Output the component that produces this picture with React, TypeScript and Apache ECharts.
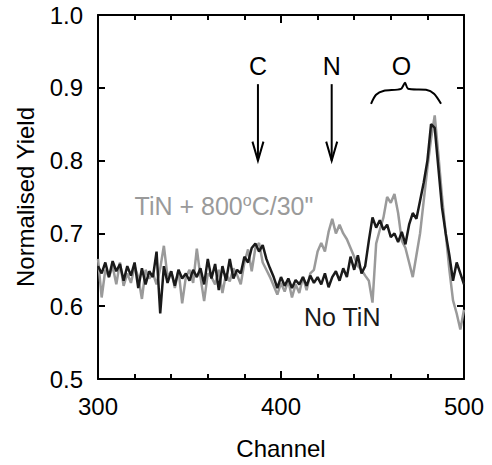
import React, { useEffect, useRef } from "react";
import * as echarts from "echarts";

const channels = [
  300, 302, 304, 306, 308, 310, 312, 314, 316, 318, 320, 322, 324, 326, 328, 330, 332, 334, 336, 338,
  340, 342, 344, 346, 348, 350, 352, 354, 356, 358, 360, 362, 364, 366, 368, 370, 372, 374, 376, 378,
  380, 382, 384, 386, 388, 390, 392, 394, 396, 398, 400, 402, 404, 406, 408, 410, 412, 414, 416, 418,
  420, 422, 424, 426, 428, 430, 432, 434, 436, 438, 440, 442, 444, 446, 448, 450, 452, 454, 456, 458,
  460, 462, 464, 466, 468, 470, 472, 474, 476, 478, 480, 482, 484, 486, 488, 490, 492, 494, 496, 498,
  500,
];

const noTiN = [
  0.655, 0.645, 0.66, 0.64, 0.662, 0.648, 0.658, 0.635, 0.655, 0.642, 0.66, 0.625, 0.652, 0.63, 0.648, 0.64, 0.675, 0.59, 0.655, 0.632,
  0.648, 0.628, 0.65, 0.638, 0.645, 0.635, 0.65, 0.64, 0.652, 0.63, 0.665, 0.638, 0.658, 0.622, 0.655, 0.635, 0.665, 0.638, 0.65, 0.645,
  0.668, 0.66, 0.68, 0.686, 0.675, 0.684, 0.665, 0.652, 0.64, 0.625, 0.64, 0.628, 0.638, 0.625, 0.636, 0.63, 0.64, 0.628, 0.642, 0.632,
  0.64, 0.63, 0.645, 0.626, 0.64, 0.648, 0.635, 0.652, 0.64, 0.668, 0.65, 0.67, 0.645, 0.655, 0.69, 0.722, 0.708, 0.718, 0.705, 0.712,
  0.695, 0.7, 0.688, 0.702, 0.685, 0.712, 0.728, 0.72, 0.745, 0.77, 0.8, 0.85, 0.845, 0.79, 0.735, 0.7, 0.67, 0.635, 0.66, 0.645,
  0.63,
];

const tin800 = [
  0.665, 0.612, 0.65, 0.64, 0.655, 0.63, 0.66, 0.628, 0.645, 0.632, 0.655, 0.64, 0.61, 0.65, 0.638, 0.645, 0.63, 0.652, 0.683, 0.64,
  0.648, 0.625, 0.65, 0.604, 0.64, 0.65, 0.632, 0.679, 0.64, 0.607, 0.645, 0.64, 0.63, 0.65, 0.618, 0.645, 0.634, 0.652, 0.643, 0.63,
  0.66, 0.678, 0.648, 0.68, 0.687, 0.66, 0.65, 0.64, 0.628, 0.616, 0.632, 0.62, 0.635, 0.612, 0.63, 0.618, 0.64, 0.622, 0.645, 0.65,
  0.675, 0.687, 0.675, 0.702, 0.72, 0.7, 0.712, 0.7, 0.692, 0.68, 0.668, 0.655, 0.65, 0.642, 0.635, 0.605, 0.686, 0.705, 0.722, 0.75,
  0.742, 0.754, 0.728, 0.69, 0.68, 0.66, 0.64, 0.67, 0.7, 0.745, 0.79, 0.83, 0.862, 0.808, 0.75, 0.7, 0.65, 0.608, 0.59, 0.568,
  0.595,
];

const xTicks = [300, 400, 500];
const yTicks = [0.5, 0.6, 0.7, 0.8, 0.9, 1.0];

const FONT = "'Liberation Sans', Arial, Helvetica, sans-serif";

export default function App() {
  const ref = useRef<HTMLDivElement>(null);

  useEffect(() => {
    document.body.style.margin = "0";
    const chart = echarts.init(ref.current!, undefined, { renderer: "svg" });

    const axisCommon = {
      axisLine: { show: true, onZero: false, lineStyle: { color: "#000", width: 2 } },
      splitLine: { show: false },
    };

    chart.setOption({
      animation: false,
      backgroundColor: "#fff",
      grid: { left: 98, top: 15, width: 366, height: 370 },
      xAxis: [
        {
          type: "value",
          min: xTicks[0],
          max: xTicks[xTicks.length - 1],
          interval: 100,
          position: "bottom",
          ...axisCommon,
          axisTick: { show: true, inside: true, length: 8, lineStyle: { color: "#000", width: 2 } },
          minorTick: { show: true, splitNumber: 5, length: 5, lineStyle: { color: "#000", width: 2 } },
          axisLabel: { fontSize: 24, color: "#000", fontFamily: FONT, margin: 15 },
          name: "Channel",
          nameLocation: "middle",
          nameGap: 57,
          nameTextStyle: { fontSize: 24, color: "#000", fontFamily: FONT },
        },
        {
          type: "value",
          min: xTicks[0],
          max: xTicks[xTicks.length - 1],
          interval: 100,
          position: "top",
          ...axisCommon,
          axisTick: { show: true, inside: true, length: 8, lineStyle: { color: "#000", width: 2 } },
          minorTick: { show: true, splitNumber: 5, length: 5, lineStyle: { color: "#000", width: 2 } },
          axisLabel: { show: false },
        },
      ],
      yAxis: [
        {
          type: "value",
          min: yTicks[0],
          max: yTicks[yTicks.length - 1],
          interval: 0.1,
          position: "left",
          ...axisCommon,
          axisTick: { show: true, inside: true, length: 7, lineStyle: { color: "#000", width: 2 } },
          axisLabel: {
            fontSize: 24,
            color: "#000",
            fontFamily: FONT,
            margin: 15,
            formatter: (v: number) => v.toFixed(1),
          },
          name: "Normalised Yield",
          nameLocation: "middle",
          nameGap: 61,
          nameRotate: 90,
          nameTextStyle: { fontSize: 24, color: "#000", fontFamily: FONT },
        },
        {
          type: "value",
          min: yTicks[0],
          max: yTicks[yTicks.length - 1],
          interval: 0.1,
          position: "right",
          ...axisCommon,
          axisTick: { show: true, inside: true, length: 7, lineStyle: { color: "#000", width: 2 } },
          axisLabel: { show: false },
        },
      ],
      series: [
        {
          name: 'TiN + 800°C/30"',
          type: "line",
          xAxisIndex: 0,
          yAxisIndex: 0,
          showSymbol: false,
          data: channels.map((c, i) => [c, tin800[i]]),
          lineStyle: { color: "#9a9a9a", width: 2.5 },
          itemStyle: { color: "#9a9a9a" },
          z: 2,
        },
        {
          name: "No TiN",
          type: "line",
          xAxisIndex: 0,
          yAxisIndex: 0,
          showSymbol: false,
          data: channels.map((c, i) => [c, noTiN[i]]),
          lineStyle: { color: "#1a1a1a", width: 2.5 },
          itemStyle: { color: "#1a1a1a" },
          z: 3,
        },
      ],
    });

    const P = (x: number, y: number) =>
      chart.convertToPixel({ xAxisIndex: 0, yAxisIndex: 0 }, [x, y]) as number[];

    const arrow = (ch: number) => {
      const top = P(ch, 0.905);
      const tip = P(ch, 0.8);
      return [
        {
          type: "line",
          shape: { x1: top[0], y1: top[1], x2: tip[0], y2: tip[1] },
          style: { stroke: "#000", lineWidth: 2 },
          z: 10,
        },
        {
          type: "polyline",
          shape: {
            points: [
              [tip[0] - 5.5, tip[1] - 19],
              [tip[0], tip[1]],
              [tip[0] + 5.5, tip[1] - 19],
            ],
          },
          style: { stroke: "#000", lineWidth: 2, fill: null },
          z: 10,
        },
      ];
    };

    const label = (text: string, ch: number, v: number) => {
      const p = P(ch, v);
      return {
        type: "text",
        x: p[0],
        y: p[1],
        style: {
          text,
          fontSize: 25,
          fontFamily: FONT,
          fill: "#000",
          align: "center",
          verticalAlign: "middle",
        },
        z: 10,
      };
    };

    const bl = P(449.2, 0.878);
    const braceOffsets = [
      [0, 0], [5, -9], [13, -13], [30, -15], [34, -21], [37, -15], [55, -14], [63, -10], [70, 0],
    ];
    const brace = {
      type: "polyline",
      shape: { points: braceOffsets.map(([dx, dy]) => [bl[0] + dx, bl[1] + dy]), smooth: 0.25 },
      style: { stroke: "#000", lineWidth: 2, fill: null },
      z: 10,
    };

    const tinPos = P(320, 0.737);
    const noPos = P(412.6, 0.585);

    chart.setOption({
      graphic: [
        ...arrow(387.4),
        ...arrow(427.7),
        label("C", 387.4, 0.93),
        label("N", 427.7, 0.93),
        label("O", 465.8, 0.93),
        brace,
        {
          type: "text",
          x: tinPos[0],
          y: tinPos[1],
          style: {
            text: '{a|TiN + 800}{s|o}{a|C/30"}',
            fontFamily: FONT,
            align: "left",
            verticalAlign: "middle",
            rich: {
              a: { fontSize: 25, lineHeight: 28, fill: "#9a9a9a", fontFamily: FONT },
              s: { fontSize: 16, lineHeight: 16, verticalAlign: "top", fill: "#9a9a9a", fontFamily: FONT },
            },
          },
          z: 10,
        },
        {
          type: "text",
          x: noPos[0],
          y: noPos[1],
          style: {
            text: "No TiN",
            fontSize: 25,
            fontFamily: FONT,
            fill: "#1a1a1a",
            align: "left",
            verticalAlign: "middle",
          },
          z: 10,
        },
      ],
    });

    return () => chart.dispose();
  }, []);

  return (
    <div
      ref={ref}
      style={{ position: "fixed", left: 0, top: 0, width: 492, height: 465, background: "#fff" }}
    />
  );
}
